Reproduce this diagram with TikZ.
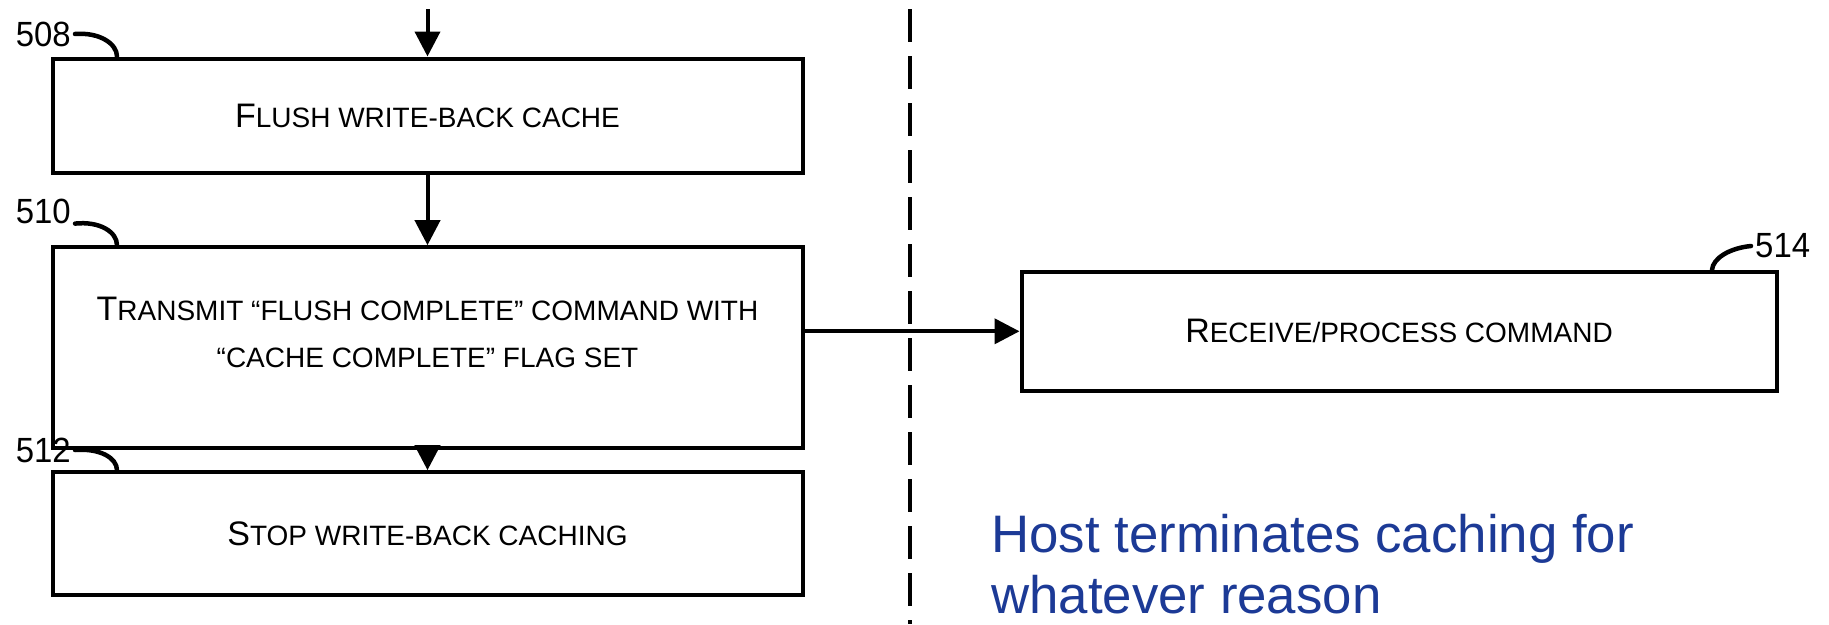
\documentclass[tikz,border=0pt]{standalone}
\usepackage{fontspec}
\setmainfont{Liberation Sans}
\newfontfamily\numfont[FakeStretch=0.94]{Liberation Sans}
\usetikzlibrary{arrows.meta}

% large initial capital and smaller capitals for the step captions
\newcommand{\Ini}[1]{{\fontsize{34}{47}\selectfont #1}}
\newcommand{\Rst}[1]{{\fontsize{28}{47}\selectfont #1}}

\definecolor{noteblue}{RGB}{28,58,150}

\tikzset{
  stepbox/.style={draw, line width=4pt, rectangle, inner sep=0pt, align=center,
                  font=\fontsize{28}{47}\selectfont},
  caption/.style={inner sep=0pt, align=center, font=\fontsize{28}{47}\selectfont},
  flow/.style={line width=4pt, -{Triangle[length=25pt,width=25pt]}},
  leader/.style={line width=4.5pt, line cap=round},
  refnum/.style={font=\numfont\fontsize{35}{38}\selectfont, inner sep=0pt},
  divider/.style={line width=4pt, dash pattern=on 33pt off 14pt},
}

\begin{document}
\begin{tikzpicture}[x=1pt,y=-1pt]
\useasboundingbox (0,0) rectangle (1829,624);

% device-side steps
\node[stepbox, minimum width=750pt, minimum height=114pt] (b508) at (427.5,115.5)
  {\Ini{F}\Rst{LUSH WRITE-BACK CACHE}};
\node[stepbox, minimum width=750pt, minimum height=201pt] (b510) at (427.5,347.7) {};
\node[caption] (t510) at ([yshift=15pt]b510.center)
  {\Ini{T}\Rst{RANSMIT “FLUSH COMPLETE” COMMAND WITH}\\
   \Rst{“CACHE COMPLETE” FLAG SET}};
\node[stepbox, minimum width=750pt, minimum height=123pt] (b512) at (427.5,533.7)
  {\Ini{S}\Rst{TOP WRITE-BACK CACHING}};

% host-side step
\node[stepbox, minimum width=755pt, minimum height=119pt] (b514) at (1399,331.3)
  {\Ini{R}\Rst{ECEIVE/PROCESS COMMAND}};

% reference numerals
\node[refnum, anchor=east] (n508) at (71,34) {508};
\node[refnum, anchor=east] (n510) at (71,211) {510};
\node[refnum, anchor=east] (n512) at (71,450) {512};
\node[refnum, anchor=west] (n514) at (1755,246) {514};

\draw[leader] (n508.east) ++(4,0) .. controls (100,32) and (117,44) .. (b508.north west -| 117,0);
\draw[leader] (n510.south east) ++(4,0) .. controls (100,221) and (117,232) .. (b510.north west -| 117,0);
\draw[leader] (n512.east) ++(4,0) .. controls (100,448) and (117,458) .. (b512.north west -| 117,0);
\draw[leader] (b514.north east -| 1712,0) .. controls (1713,258) and (1730,248) .. ([xshift=-4pt]n514.west);

% flow arrows
\coordinate (entry) at (427.5,9);
\draw[flow] (entry) -- (b508.north);
\draw[flow] (b508.south) -- (b510.north);
\draw[flow] (b510.south) -- (b512.north);
\draw[flow] (b510.east |- b514.west) -- (b514.west);

% device / host boundary
\coordinate (divtop) at (910,9);
\coordinate (divbot) at (910,624);
\draw[divider] (divtop) -- (divbot);

% note
\node[anchor=north west, align=left, text=noteblue, inner sep=0pt,
      font=\fontsize{52.8}{61}\selectfont] (note) at (991,514)
  {Host terminates caching for\\whatever reason};
\end{tikzpicture}
\end{document}
